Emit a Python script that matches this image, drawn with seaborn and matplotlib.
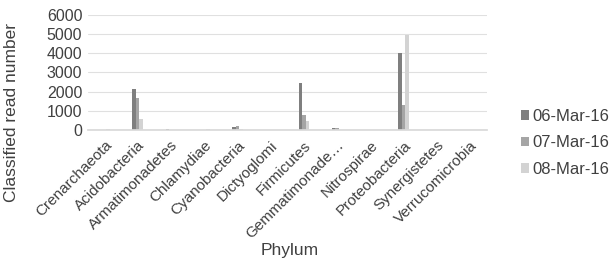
import matplotlib
matplotlib.use("Agg")
import matplotlib.pyplot as plt
import seaborn as sns
import pandas as pd

# phylum categories and read counts per sampling date
phyla = ["Crenarchaeota", "Acidobacteria", "Armatimonadetes", "Chlamydiae",
         "Cyanobacteria", "Dictyoglomi", "Firmicutes", "Gemmatimonade…",
         "Nitrospirae", "Proteobacteria", "Synergistetes", "Verrucomicrobia"]
dates = ["06-Mar-16", "07-Mar-16", "08-Mar-16"]
reads_0603 = [5, 2150, 30, 10, 150, 5, 2450, 100, 5, 4000, 5, 5]
reads_0703 = [5, 1650, 10, 10, 200, 5, 800, 80, 5, 1300, 5, 5]
reads_0803 = [50, 550, 10, 40, 60, 5, 450, 20, 5, 4950, 5, 5]
yticks = [0, 1000, 2000, 3000, 4000, 5000, 6000]

df = pd.DataFrame({
    "Phylum": phyla * 3,
    "Date": [d for d in dates for _ in phyla],
    "Reads": reads_0603 + reads_0703 + reads_0803,
})

sns.set_theme(style="white")
plt.rcParams["font.family"] = ["Liberation Sans", "DejaVu Sans"]

fig = plt.figure(figsize=(6.1, 2.73), dpi=100)
ax = fig.add_axes([0.144, 0.524, 0.654, 0.421])

colors = ["#7f7f7f", "#a5a5a5", "#d3d3d3"]
sns.barplot(data=df, x="Phylum", y="Reads", hue="Date", palette=colors,
            width=0.32, ax=ax, saturation=1, linewidth=0, legend=True)

ax.set_ylim(0, 6000)
ax.set_yticks(yticks)
ax.set_yticklabels([str(t) for t in yticks], fontsize=11.5, color="#404040")
ax.set_xticklabels(phyla, rotation=45, ha="right", rotation_mode="anchor",
                   fontsize=11, color="#404040")
ax.tick_params(axis="both", length=0, pad=4)
ax.tick_params(axis="x", pad=6)
ax.yaxis.grid(True, color="#e0e0e0", linewidth=0.8)
ax.set_axisbelow(True)
for s in ["top", "right", "left"]:
    ax.spines[s].set_visible(False)
ax.spines["bottom"].set_color("#d9d9d9")
ax.set_xlabel("")
ax.set_ylabel("")

fig.text(12 / 610, 1 - 112 / 273, "Classified read number", rotation=90,
         ha="center", va="center", fontsize=12.5, color="#404040")
fig.text(290 / 610, 1 - 250 / 273, "Phylum", ha="center", va="center",
         fontsize=12.5, color="#404040")

leg = ax.legend(loc="center left", bbox_to_anchor=(0.84, 1 - 143 / 273),
                bbox_transform=fig.transFigure, frameon=False,
                fontsize=12, handlelength=0.5, handleheight=0.5,
                handletextpad=0.2, labelspacing=0.7, borderpad=0)
for t in leg.get_texts():
    t.set_color("#404040")

fig.savefig("out.png", dpi=100)
